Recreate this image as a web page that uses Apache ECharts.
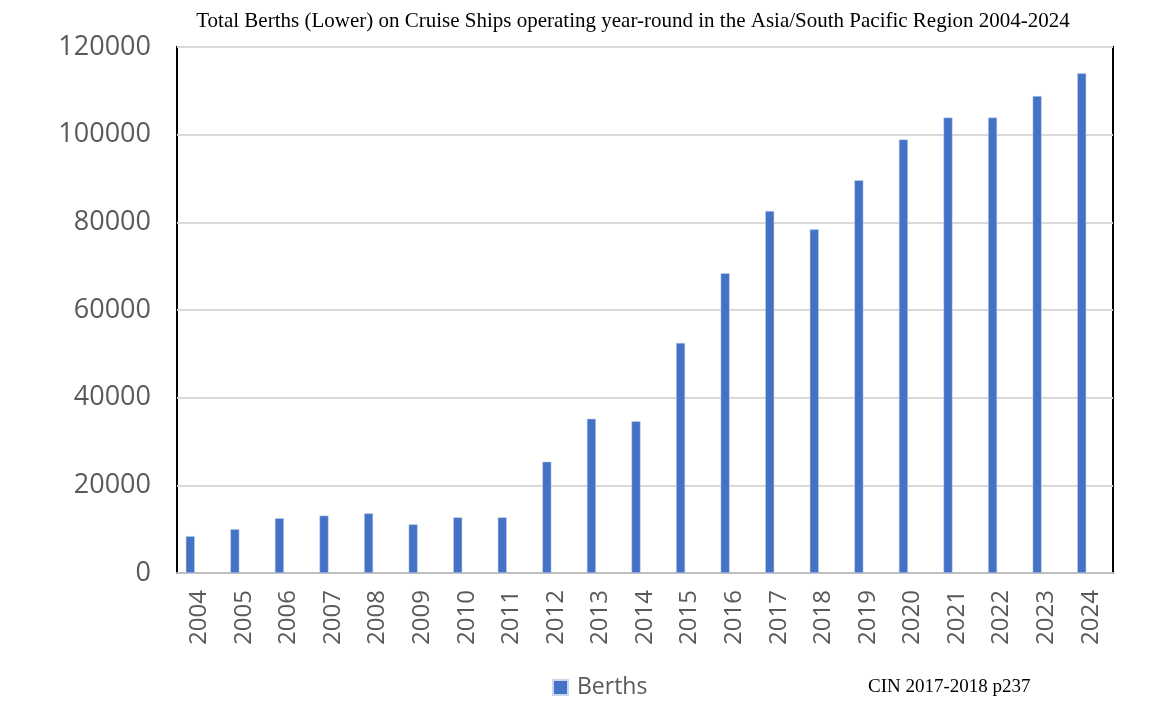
<!DOCTYPE html>
<html>
<head>
<meta charset="utf-8">
<script src="https://cdn.jsdelivr.net/npm/echarts@6/dist/echarts.min.js"></script>
<style>
html,body{margin:0;padding:0;background:#fff;}
#chart{width:1167px;height:702px;}
</style>
</head>
<body>
<div id="chart"></div>
<script>
const titleText = 'Total Berths (Lower) on Cruise Ships operating year-round in the Asia/South Pacific Region 2004-2024';
const sourceText = 'CIN 2017-2018 p237';
const years = ['2004','2005','2006','2007','2008','2009','2010','2011','2012','2013','2014','2015','2016','2017','2018','2019','2020','2021','2022','2023','2024'];
const berths = [8400,10000,12500,13100,13600,11100,12700,12700,25400,35200,34600,52500,68400,82600,78400,89600,98900,103900,103900,108800,114000];
const emptySeries = years.map(() => null);
const yTicks = [0,20000,40000,60000,80000,100000,120000];

const chart = echarts.init(document.getElementById('chart'));
chart.setOption({
  animation: false,
  backgroundColor: '#ffffff',
  title: {
    text: titleText,
    left: 628, textAlign: 'center', top: 6,
    textStyle: {fontFamily: 'Liberation Serif', fontWeight: 'normal', fontSize: 21, color: '#000'}
  },
  legend: {
    data: ['Berths'],
    left: 547, top: 671,
    icon: 'rect', itemWidth: 15, itemHeight: 15, itemGap: 6,
    textStyle: {fontFamily: 'Open Sans', fontSize: 23, color: '#595959', padding: [0,0,0,4]}
  },
  graphic: [{
    type: 'text', left: 868, top: 678,
    style: {text: sourceText, font: '19px "Liberation Serif"', fill: '#000'}
  }],
  grid: {
    left: 177, right: 54, top: 47, bottom: 129,
    show: true, borderColor: '#000', borderWidth: 2, backgroundColor: 'transparent'
  },
  xAxis: {
    type: 'category', data: years,
    axisTick: {show: false},
    axisLine: {lineStyle: {color: '#bfbfbf', width: 2}},
    axisLabel: {rotate: 90, margin: 17, fontFamily: 'Open Sans', fontSize: 24, color: '#595959'}
  },
  yAxis: {
    type: 'value', min: 0, max: 120000, interval: 20000,
    axisLine: {show: false}, axisTick: {show: false},
    splitLine: {lineStyle: {color: '#d9d9d9', width: 2}},
    axisLabel: {margin: 26, fontFamily: 'Open Sans', fontSize: 27, color: '#595959',
      formatter: v => yTicks.includes(v) ? String(v) : ''}
  },
  series: [{
    name: 'Berths', type: 'bar', data: berths, barWidth: 9, barGap: '100%',
    itemStyle: {color: '#4472C4', borderColor: '#c9d6ef', borderWidth: 0.5}
  }, {
    name: 'spacer', type: 'bar', data: emptySeries, barWidth: 9,
    itemStyle: {color: 'transparent'}, silent: true
  }]
});
</script>
</body>
</html>
